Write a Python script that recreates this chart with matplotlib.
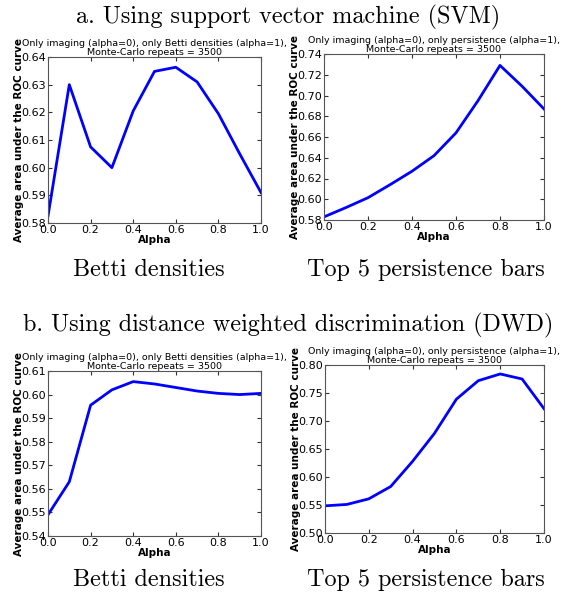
import numpy as np
import matplotlib
matplotlib.use('Agg')
import matplotlib.pyplot as plt

# alpha grid and AUC values
alpha = [0.0, 0.1, 0.2, 0.3, 0.4, 0.5, 0.6, 0.7, 0.8, 0.9, 1.0]
svm_betti = [0.5825, 0.630, 0.6075, 0.600, 0.6205, 0.6348, 0.6363, 0.631, 0.6195, 0.605, 0.591]
svm_pers = [0.583, 0.592, 0.6015, 0.614, 0.627, 0.642, 0.664, 0.695, 0.729, 0.709, 0.687]
dwd_betti = [0.549, 0.563, 0.5955, 0.602, 0.6055, 0.6045, 0.603, 0.6015, 0.6005, 0.600, 0.6005]
dwd_pers = [0.5485, 0.551, 0.561, 0.583, 0.628, 0.678, 0.739, 0.772, 0.784, 0.775, 0.722]

ylims = [(0.58, 0.64, 0.01), (0.58, 0.74, 0.02), (0.54, 0.61, 0.01), (0.50, 0.80, 0.05)]
titles = ['Only imaging (alpha=0), only Betti densities (alpha=1),\nMonte-Carlo repeats = 3500',
          'Only imaging (alpha=0), only persistence (alpha=1),\nMonte-Carlo repeats = 3500']
series = [svm_betti, svm_pers, dwd_betti, dwd_pers]

W, H = 565, 595
fig = plt.figure(figsize=(W / 100, H / 100), dpi=100)

# axes boxes in pixels: left, top, right, bottom
boxes = [(48, 57, 261, 223), (324, 54, 544, 220), (48, 371, 261, 536), (325, 365, 544, 533)]

for i, (l, t, r, b) in enumerate(boxes):
    ax = fig.add_axes([l / W, 1 - b / H, (r - l) / W, (b - t) / H])
    ax.plot(alpha, series[i], color='blue', lw=2)
    lo, hi, step = ylims[i]
    ax.set_ylim(lo, hi)
    ax.set_xlim(0, 1)
    ax.set_yticks(np.arange(lo, hi + step / 2, step))
    ax.set_xticks(np.arange(0, 1.01, 0.2))
    ax.yaxis.set_major_formatter(matplotlib.ticker.FormatStrFormatter('%.2f'))
    ax.xaxis.set_major_formatter(matplotlib.ticker.FormatStrFormatter('%.1f'))
    ax.tick_params(direction='in', top=True, right=True, labelsize=8, length=3, color='#333333', pad=1.5)
    for s in ax.spines.values():
        s.set_color('#555555')
    ax.set_xlabel('Alpha', fontsize=7.5, fontweight='bold', labelpad=0)
    ax.set_ylabel('Average area under the ROC curve', fontsize=7.5, fontweight='bold', labelpad=-2)
    ax.set_title(titles[i % 2], fontsize=6.8, pad=1.5, linespacing=0.95)

big = dict(family='cmr10', fontsize=17.4, ha='center', va='center')
fig.text(288 / W, 1 - 17 / H, 'a. Using support vector machine (SVM)', **big)
fig.text(288 / W, 1 - 325 / H, 'b. Using distance weighted discrimination (DWD)', **big)
for y in (270, 580):
    fig.text(149 / W, 1 - y / H, 'Betti densities', **big)
    fig.text(426 / W, 1 - y / H, 'Top 5 persistence bars', **big)

fig.savefig('out.png', dpi=100, facecolor='white')
